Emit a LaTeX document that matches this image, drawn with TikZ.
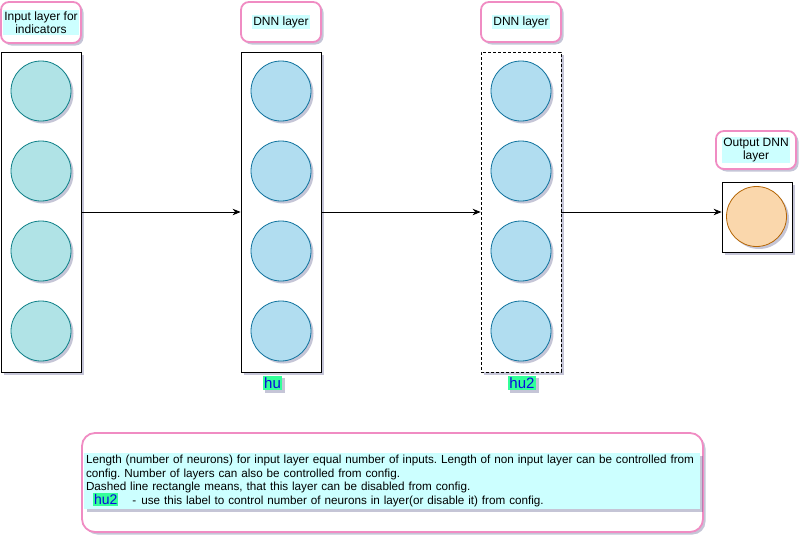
\documentclass[tikz,border=0pt]{standalone}
\usepackage{fontspec}
\setmainfont{Liberation Sans}
\usetikzlibrary{shadows,arrows.meta}
\frenchspacing
\definecolor{pinkb}{RGB}{240,140,195}
\definecolor{cyanbg}{RGB}{204,255,255}
\definecolor{tealfill}{RGB}{176,227,230}
\definecolor{tealdraw}{RGB}{14,128,136}
\definecolor{bluefill}{RGB}{177,221,240}
\definecolor{bluedraw}{RGB}{16,115,158}
\definecolor{orfill}{RGB}{250,215,172}
\definecolor{ordraw}{RGB}{180,101,4}
\definecolor{hugreen}{RGB}{51,255,153}
\definecolor{hublue}{RGB}{10,10,220}
\definecolor{shadc}{RGB}{90,90,140}
\tikzset{
  shad/.style={drop shadow={shadow xshift=2.5pt,shadow yshift=-2.5pt,fill=shadc,opacity=0.35}},
  layerbox/.style={draw=black,fill=white,line width=0.8pt,minimum width=80pt,minimum height=320pt,inner sep=0pt,shad},
  neuronbase/.style={circle,minimum size=60pt,inner sep=0pt,line width=0.8pt,shad},
  inneuron/.style={neuronbase,draw=tealdraw,fill=tealfill},
  dnnneuron/.style={neuronbase,draw=bluedraw,fill=bluefill},
  outneuron/.style={neuronbase,draw=ordraw,fill=orfill},
  lblbox/.style={draw=pinkb,fill=white,line width=1.8pt,rounded corners=8pt,inner sep=0pt,shad},
  lbltext/.style={fill=cyanbg,inner sep=1pt,align=center,font=\fontsize{12}{13.5}\selectfont},
  hulabel/.style={fill=hugreen,text=hublue,inner sep=1.5pt,font=\fontsize{15}{15}\selectfont,shad},
  arr/.style={draw=black,line width=0.8pt,-{Stealth[length=8pt,width=6.5pt]}}
}
\begin{document}
\begin{tikzpicture}[x=1pt,y=-1pt]
\useasboundingbox (0,0) rectangle (810,546);
% layer boxes
\node[layerbox] (L1) at (41,212) {};
\node[layerbox] (L2) at (281,212) {};
\node[layerbox,dashed,dash pattern=on 3pt off 2pt] (L3) at (521,212) {};
\node[layerbox,minimum width=70pt,minimum height=70pt] (L4) at (757,217) {};
% neurons
\foreach \k/\yy in {1/91,2/171,3/251,4/331}{
  \node[inneuron] (a\k) at (41,\yy) {};
  \node[dnnneuron] (b\k) at (281,\yy) {};
  \node[dnnneuron] (c\k) at (521,\yy) {};
}
\node[outneuron] (o1) at (756.5,216.5) {};
% top labels
\node[lblbox,minimum width=80pt,minimum height=41pt] (t1) at (41,22.5) {};
\node[lbltext] (t1t) at (t1) {Input layer for\\indicators};
\node[lblbox,minimum width=80pt,minimum height=40pt] (t2) at (281,22) {};
\node[lbltext] (t2t) at (t2) {DNN layer};
\node[lblbox,minimum width=80pt,minimum height=40pt] (t3) at (521,22) {};
\node[lbltext] (t3t) at (t3) {DNN layer};
\node[lblbox,minimum width=80pt,minimum height=38pt] (t4) at (756,150) {};
\node[lbltext] (t4t) at (t4) {Output DNN\\layer};
% arrows
\draw[arr] (L1.east) -- (L2.west);
\draw[arr] (L2.east) -- (L3.west);
\draw[arr] (L3.east) -- (L3.east -| L4.west);
% hu labels
\node[hulabel] (hu1) at (272.5,383) {hu};
\node[hulabel] (hu2) at (522,383) {hu2};
% note
\node[lblbox,minimum width=621pt,minimum height=99pt,rounded corners=13pt] (note) at (392.5,482.5) {};
\node[fill=cyanbg,text width=612pt,align=left,inner sep=2pt,font=\fontsize{11.7}{13.7}\selectfont,shad] (notet) at (392,481)
{Length (number of neurons) for input layer equal number of inputs. Length of non input layer can be controlled from\\
config. Number of layers can also be controlled from config.\\
Dashed line rectangle means, that this layer can be disabled from config.\\
\hspace*{7pt}{\setlength{\fboxsep}{1pt}\colorbox{hugreen}{\textcolor{hublue}{\fontsize{14}{13.7}\selectfont hu2}}}\hspace{14pt}-\hspace{5pt}use this label to control number of neurons in layer(or disable it) from config.};
\end{tikzpicture}
\end{document}
